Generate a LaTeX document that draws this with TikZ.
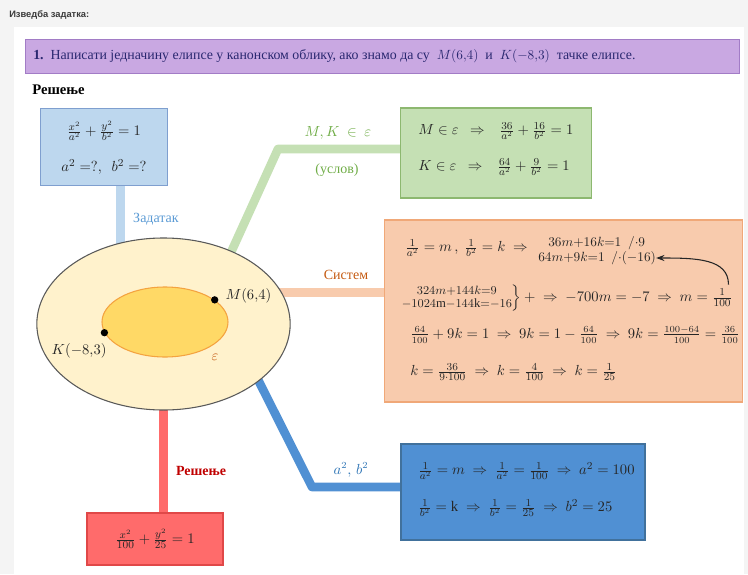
\documentclass[tikz,border=0pt]{standalone}
\usepackage{amsmath}
\usepackage{fontspec}
\setmainfont{Liberation Serif}
\setsansfont{Liberation Sans}
\usetikzlibrary{positioning, arrows.meta, calc, shapes.geometric, backgrounds}
\definecolor{pageGray}{HTML}{F4F4F4}
\definecolor{titleText}{HTML}{3A3A3A}
\definecolor{taskFill}{HTML}{C9A8E2}
\definecolor{taskLine}{HTML}{A27CC6}
\definecolor{taskText}{HTML}{2A2870}
\definecolor{mathText}{HTML}{262626}
\definecolor{givenFill}{HTML}{BDD7EE}
\definecolor{givenLine}{HTML}{7F9FCF}
\definecolor{givenTag}{HTML}{5B9BD5}
\definecolor{condFill}{HTML}{C5E0B4}
\definecolor{condLine}{HTML}{8DB870}
\definecolor{condTag}{HTML}{70AD47}
\definecolor{sysFill}{HTML}{F8CBAD}
\definecolor{sysLine}{HTML}{F0A878}
\definecolor{sysTag}{HTML}{C55A11}
\definecolor{resFill}{HTML}{5090D3}
\definecolor{resLine}{HTML}{41719C}
\definecolor{resTag}{HTML}{2E75B6}
\definecolor{solFill}{HTML}{FF6B6B}
\definecolor{solLine}{HTML}{E04848}
\definecolor{solTag}{HTML}{C00000}
\definecolor{ellFill}{HTML}{FFF2CC}
\definecolor{ellLine}{HTML}{595959}
\definecolor{innerFill}{HTML}{FFD966}
\definecolor{innerLine}{HTML}{F4A340}
\definecolor{epsText}{HTML}{C55A11}

\begin{document}
\begin{tikzpicture}[x=0.75pt, y=-0.75pt,
  every node/.style={font=\fontsize{11}{13}\selectfont, inner sep=0pt, text=mathText},
  box/.style={rectangle, line width=0.8pt, inner sep=0pt},
  taskbar/.style={box, fill=taskFill, draw=taskLine, minimum width=536pt, minimum height=25pt},
  givenbox/.style={box, fill=givenFill, draw=givenLine, minimum width=95pt, minimum height=58pt},
  condbox/.style={box, fill=condFill, draw=condLine, minimum width=143pt, minimum height=67.5pt},
  sysbox/.style={box, fill=sysFill, draw=sysLine, minimum width=268pt, minimum height=136.5pt},
  resbox/.style={box, fill=resFill, draw=resLine, minimum width=183pt, minimum height=72pt},
  solbox/.style={box, fill=solFill, draw=solLine, minimum width=102pt, minimum height=39pt},
  oval/.style={ellipse, line width=0.8pt, inner sep=0pt},
  dot/.style={circle, fill=black, minimum size=5.5pt},
  tag/.style={font=\fontsize{10.5}{12}\selectfont},
  small/.style={font=\fontsize{10}{11}\selectfont},
  branch/.style={line width=6.5pt, line join=round, shorten <=-4pt, shorten >=-4pt},
  loop/.style={-{Stealth[length=2.2mm, width=1.6mm]}, line width=0.8pt, draw=mathText},
]
  \useasboundingbox (0,0) rectangle (748,574);

  % heading and task
  \node[anchor=west, font=\sffamily\bfseries\fontsize{7}{9}\selectfont, text=titleText]
        at (9,15) (title) {Изведба задатка:};
  \node[taskbar] at (382.5,56.5) (task) {};
  \node[anchor=west, text=taskText, font=\fontsize{10.4}{12}\selectfont] at (33,56) (tasktext)
        {\textbf{1.}\enspace Написати једначину елипсе у канонском облику, ако знамо да су\ \ $M(6{,}4)$\ \ и\ \ $K(-8{,}3)$\ \ тачке елипсе.};
  \node[anchor=west, font=\bfseries\fontsize{11}{13}\selectfont, text=black] at (32,90) (soltitle) {Решење};

  % central ellipse
  \node[oval, fill=ellFill, draw=ellLine, minimum width=190pt, minimum height=129pt] at (163.5,324) (ell) {};
  \node[oval, fill=innerFill, draw=innerLine, minimum width=94.5pt, minimum height=52.5pt] at (165,322) (inner) {};
  \node[dot] at (inner.24)  (M) {};
  \node[dot] at (inner.190) (K) {};
  \node[right=5pt of M, yshift=3pt] (Mlab) {$M(6{,}4)$};
  \node[below=5pt of K, xshift=-19pt] (Klab) {$K(-8{,}3)$};
  \node[text=epsText] at (215,357) (epslab) {$\varepsilon$};

  % given
  \node[givenbox] at (104,147) (given) {};
  \node at (104,131) (giveneq) {$\frac{x^2}{a^2}+\frac{y^2}{b^2}=1$};
  \node at (104,167) (givenq) {$a^2=?,\ \ b^2=?$};

  % condition
  \node[condbox] at (496,153) (cond) {};
  \node[anchor=west] at (418,131) (condM) {$M\in\varepsilon\ \ \Rightarrow\ \ \ \frac{36}{a^2}+\frac{16}{b^2}=1$};
  \node[anchor=west] at (418,167) (condK) {$K\in\varepsilon\ \ \Rightarrow\ \ \ \frac{64}{a^2}+\frac{9}{b^2}=1$};

  % system
  \node[sysbox] at (563.5,311) (sys) {};
  \node[anchor=west] at (405,248) (sysA) {$\frac{1}{a^2}=m\,,\ \frac{1}{b^2}=k\ \Rightarrow$};
  \node[small, anchor=west] at (548,243) (eqA) {$36m{+}16k{=}1\ \ /{\cdot}9$};
  \node[small, anchor=west] at (538,258) (eqB) {$64m{+}9k{=}1\ \ /{\cdot}(-16)$};
  \node[anchor=west] at (400,298) (sysB) {\renewcommand{\arraystretch}{0.85}%
        $\left.\text{\fontsize{9.5}{11}\selectfont$\begin{array}{@{}c@{}}324m{+}144k{=}9\\ -1024\mathrm{m}{-}144\mathrm{k}{=}{-}16\end{array}$}\right\}+\ \Rightarrow\ -700m=-7\ \Rightarrow\ m=\frac{1}{100}$};
  \node[anchor=west, font=\fontsize{10.5}{12}\selectfont] at (410,335) (sysC) {$\frac{64}{100}+9k=1\ \Rightarrow\ 9k=1-\frac{64}{100}\ \Rightarrow\ 9k=\frac{100-64}{100}=\frac{36}{100}$};
  \node[anchor=west] at (410,372) (sysD) {$k=\frac{36}{9\cdot100}\ \Rightarrow\ k=\frac{4}{100}\ \Rightarrow\ k=\frac{1}{25}$};
  \draw[loop] ([xshift=-3pt]sysB.north east) .. controls +(0,-26) and +(40,0) .. (eqB.east);

  % result
  \node[resbox] at (523,492) (res) {};
  \node[anchor=west] at (418,471) (resA) {$\frac{1}{a^2}=m\ \Rightarrow\ \frac{1}{a^2}=\frac{1}{100}\ \Rightarrow\ a^2=100$};
  \node[anchor=west] at (418,508) (resB) {$\frac{1}{b^2}=\mathrm{k}\ \Rightarrow\ \frac{1}{b^2}=\frac{1}{25}\ \Rightarrow\ b^2=25$};

  % solution
  \node[solbox] at (155,539) (sol) {$\frac{x^2}{100}+\frac{y^2}{25}=1$};

  % branch labels
  \node[tag, text=givenTag] at (156,219) (givenlab) {Задатак};
  \node[tag, text=condTag] at (338,133) (condlab) {$M,K\ \in\ \varepsilon$};
  \node[tag, text=condTag] at (337,170) (condnote) {(услов)};
  \node[tag, text=sysTag] at (346,275) (syslab) {Систем};
  \node[tag, text=resTag] at (351,470) (reslab) {$a^2,\,b^2$};
  \node[tag, text=solTag, font=\bfseries\fontsize{10.5}{12}\selectfont] at (201,471) (sollab) {Решење};

  \begin{scope}[on background layer]
    \fill[pageGray] (0,0) rectangle (748,574);
    \fill[white] (14,27) rectangle (744,574);
    \coordinate (gbend) at (278,149);
    \coordinate (rbend) at (312,487);
    \draw[branch, draw=givenFill] (ell.118) -- (ell.118 |- given.south);
    \draw[branch, draw=condFill] (ell.47) -- (gbend) -- (gbend -| cond.west);
    \draw[branch, draw=sysFill] (ell.15) -- (ell.15 -| sys.west);
    \draw[branch, draw=resFill] (ell.-31) -- (rbend) -- (rbend -| res.west);
    \draw[branch, draw=solFill] (ell.south) -- (ell.south |- sol.north);
  \end{scope}
\end{tikzpicture}
\end{document}
